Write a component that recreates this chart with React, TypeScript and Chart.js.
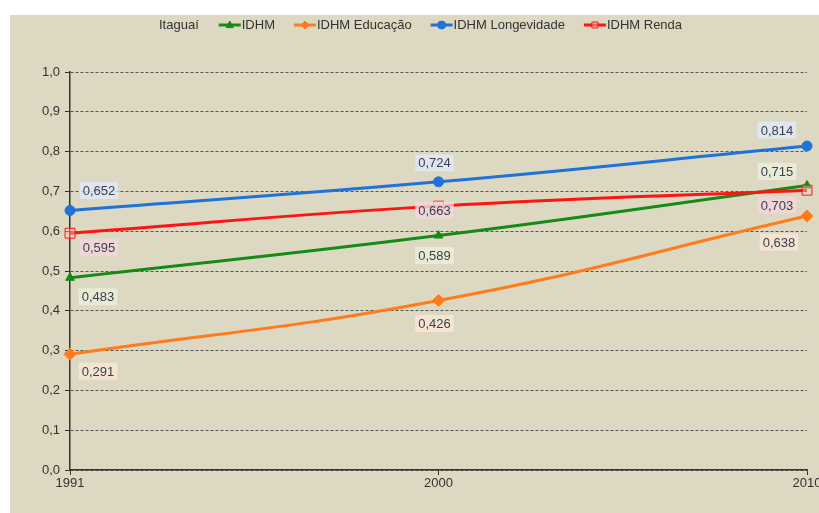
import React, { useEffect, useRef } from 'react';
import { Chart, registerables } from 'chart.js';
Chart.register(...registerables);

const years = ['1991', '2000', '2010'];
const idhm = [0.483, 0.589, 0.715];
const idhmEducacao = [0.291, 0.426, 0.638];
const idhmLongevidade = [0.652, 0.724, 0.814];
const idhmRenda = [0.595, 0.663, 0.703];
const legendTitle = 'Itaguaí';
const seriesNames = ['IDHM', 'IDHM Educação', 'IDHM Longevidade', 'IDHM Renda'];

const FONT = '"Liberation Sans Narrow", "Arial Narrow", "Liberation Sans", Arial, sans-serif';
const TEXT = '#333333';

const fmt = (v: number) => v.toFixed(3).replace('.', ',');

function drawMarker(ctx: CanvasRenderingContext2D, style: string, x: number, y: number, r: number, fill: string, stroke: string, lw: number) {
  ctx.beginPath();
  switch (style) {
    case 'circle':
      ctx.arc(x, y, r, 0, Math.PI * 2);
      break;
    case 'triangle':
      ctx.moveTo(x, y - r);
      ctx.lineTo(x + r * 0.9, y + r * 0.65);
      ctx.lineTo(x - r * 0.9, y + r * 0.65);
      ctx.closePath();
      break;
    case 'rectRot':
      ctx.moveTo(x, y - r);
      ctx.lineTo(x + r, y);
      ctx.lineTo(x, y + r);
      ctx.lineTo(x - r, y);
      ctx.closePath();
      break;
    default:
      ctx.rect(x - r * 0.75, y - r * 0.75, r * 1.5, r * 1.5);
  }
  ctx.fillStyle = fill;
  ctx.fill();
  ctx.strokeStyle = stroke;
  ctx.lineWidth = lw;
  ctx.stroke();
}

const legendPlugin = {
  id: 'excelLegend',
  afterDraw(chart: any) {
    const ctx: CanvasRenderingContext2D = chart.ctx;
    ctx.save();
    ctx.font = `13px ${FONT}`;
    ctx.textBaseline = 'middle';
    ctx.textAlign = 'left';
    const y = 10;
    let x = 149;
    ctx.fillStyle = TEXT;
    ctx.fillText(legendTitle, x, y);
    x += ctx.measureText(legendTitle).width + 20;
    chart.data.datasets.forEach((ds: any) => {
      ctx.strokeStyle = ds.borderColor;
      ctx.lineWidth = 3;
      ctx.beginPath();
      ctx.moveTo(x, y);
      ctx.lineTo(x + 22, y);
      ctx.stroke();
      drawMarker(ctx, ds.pointStyle, x + 11, y, 4, ds.pointBackgroundColor, ds.pointBorderColor, 1);
      x += 23;
      ctx.fillStyle = TEXT;
      ctx.fillText(ds.label, x, y);
      x += ctx.measureText(ds.label).width + 19;
    });
    ctx.restore();
  },
};

const labelPlugin = {
  id: 'valueLabels',
  afterDatasetsDraw(chart: any) {
    const ctx: CanvasRenderingContext2D = chart.ctx;
    ctx.save();
    ctx.font = `13px ${FONT}`;
    ctx.textAlign = 'center';
    ctx.textBaseline = 'middle';
    chart.data.datasets.forEach((ds: any, di: number) => {
      const meta = chart.getDatasetMeta(di);
      meta.data.forEach((pt: any, i: number) => {
        const [dx, dy] = ds.labelOffsets[i];
        const text = fmt(ds.data[i]);
        const w = ctx.measureText(text).width + 6;
        const h = 17;
        const cx = pt.x + dx;
        const cy = pt.y + dy;
        ctx.fillStyle = ds.labelBg;
        ctx.fillRect(cx - w / 2, cy - h / 2, w, h);
        ctx.fillStyle = '#3d4050';
        ctx.fillText(text, cx, cy + 1);
      });
    });
    ctx.restore();
  },
};

export default function App() {
  const ref = useRef<HTMLCanvasElement | null>(null);
  useEffect(() => {
    if (!ref.current) return;
    const mk = (label: string, data: number[], color: string, pointStyle: string, radius: number, fill: string, labelBg: string, labelOffsets: number[][], order: number) => ({
      label,
      data,
      borderColor: color,
      backgroundColor: color,
      borderWidth: 3,
      pointStyle,
      pointRadius: radius,
      pointBackgroundColor: fill,
      pointBorderColor: color,
      pointBorderWidth: 1,
      tension: 0.45,
      clip: false,
      labelBg,
      labelOffsets,
      order,
    });
    const chart = new Chart(ref.current, {
      type: 'line',
      data: {
        labels: years,
        datasets: [
          mk(seriesNames[0], idhm, '#168a16', 'triangle', 5, '#168a16', 'rgba(235,241,219,0.8)', [[28, 19], [-4, 20], [-30, -14]], 3),
          mk(seriesNames[1], idhmEducacao, '#ff7b1c', 'rectRot', 6, '#ff7b1c', 'rgba(252,231,214,0.8)', [[28, 17], [-4, 23], [-28, 26]], 2),
          mk(seriesNames[2], idhmLongevidade, '#1f72d8', 'circle', 5, '#1f72d8', 'rgba(224,234,251,0.8)', [[29, -20], [-4, -19], [-30, -16]], 1),
          mk(seriesNames[3], idhmRenda, '#ff1414', 'rect', 7, 'rgba(255,200,200,0.4)', 'rgba(245,215,220,0.8)', [[29, 14], [-4, 4], [-30, 15]], 0),
        ] as any,
      },
      options: {
        responsive: false,
        animation: false,
        layout: { padding: { top: 57, right: 12, bottom: 23, left: 0 } },
        plugins: {
          legend: { display: false },
          tooltip: { enabled: false },
          title: { display: false },
        },
        scales: {
          x: {
            type: 'category',
            offset: false,
            grid: { drawOnChartArea: false, color: '#333', tickLength: 5 },
            border: { color: '#333', width: 1.5 },
            ticks: { color: TEXT, font: { family: FONT, size: 13 }, padding: 1, maxRotation: 0, autoSkip: false },
            afterFit(s: any) { s.height = 20; s.paddingLeft = 0; s.paddingRight = 0; },
          },
          y: {
            min: 0,
            max: 1,
            ticks: {
              stepSize: 0.1,
              color: TEXT,
              font: { family: FONT, size: 13 },
              padding: 5,
              callback: (v: any) => Number(v).toFixed(1).replace('.', ','),
            },
            grid: { color: '#555', lineWidth: 1, tickLength: 5, tickColor: '#333', tickBorderDash: [], tickWidth: 1 },
            border: { color: '#333', width: 1.5, dash: [3, 2] },
            afterFit(s: any) { s.width = 60; s.paddingTop = 0; s.paddingBottom = 0; },
          },
        },
      } as any,
      plugins: [labelPlugin, legendPlugin],
    });
    return () => chart.destroy();
  }, []);
  return (
    <div style={{ position: 'fixed', left: 0, top: 0, width: 819, height: 513, background: '#ffffff', overflow: 'hidden' }}>
      <canvas
        ref={ref}
        width={809}
        height={498}
        style={{ position: 'absolute', left: 10, top: 15, width: 809, height: 498, background: '#ddd8c2' }}
      />
    </div>
  );
}
